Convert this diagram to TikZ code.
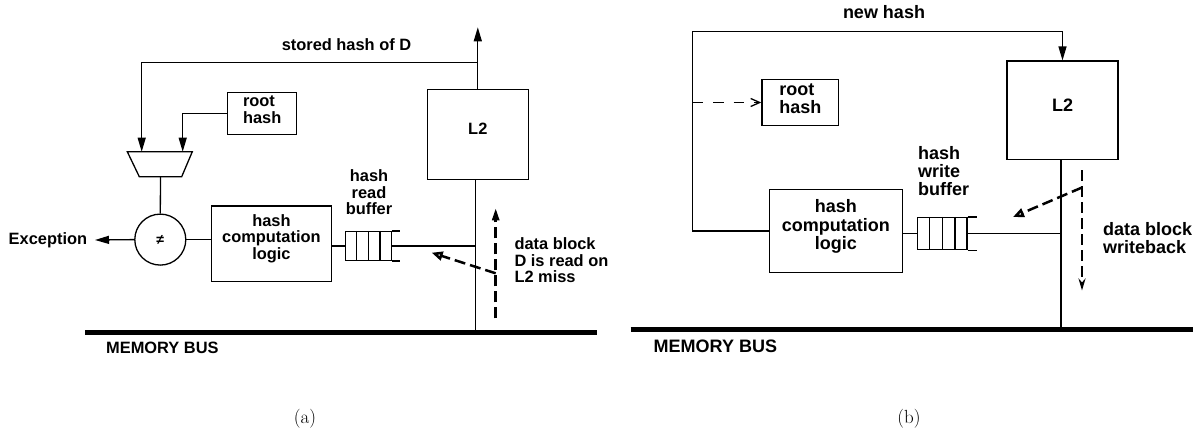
\documentclass[tikz,border=0pt]{standalone}
\usepackage{fontspec}
\setsansfont{Liberation Sans}
\usetikzlibrary{arrows.meta,calc}
\begin{document}
\begin{tikzpicture}[x=1pt,y=-1pt,
  lbl/.style={font=\sffamily\bfseries\fontsize{16.4}{16.5}\selectfont, inner sep=0pt},
  lblb/.style={font=\sffamily\bfseries\fontsize{18}{18.3}\selectfont, inner sep=0pt},
  box/.style={draw, line width=1.3pt, inner sep=0pt},
  wire/.style={line width=1.3pt},
  solidarrow/.style={wire, -{Triangle[length=14pt,width=8pt]}},
  busline/.style={line width=4.7pt},
  thickdash/.style={line width=2.5pt, dash pattern=on 11pt off 5pt},
  thindash/.style={line width=1.3pt, dash pattern=on 10.5pt off 10pt},
  filledtip/.style={-{Triangle[length=12pt,width=7pt]}},
  opentip/.style={-{Triangle[open,length=11pt,width=9pt]}},
  captionfont/.style={font=\fontsize{19}{19}\selectfont, inner sep=0pt},
  neqfont/.style={font=\sffamily\bfseries\fontsize{14}{14}\selectfont}
]
\useasboundingbox (0,0) rectangle (1202,431);

% ================= panel (a) =================
\node[box, minimum width=101pt, minimum height=90pt,
      label={[lbl,yshift=5pt]center:L2}] (L2a) at (477.8,134.2) {};
\node[box, minimum width=69pt, minimum height=41.6pt,
      label={[lbl,align=left,yshift=4pt]center:root\\hash}] (roota) at (262.2,113.5) {};
\node[box, minimum width=119.5pt, minimum height=75.7pt,
      label={[lbl,align=center,yshift=5.5pt]center:hash\\computation\\logic}] (hca) at (271.4,243.9) {};
\node[box, shape=circle, minimum size=51pt, neqfont] (neq) at (160.3,239.6) {≠};
\node[box, minimum width=45.9pt, minimum height=28.6pt] (bufa) at (368.25,245.9) {};
\foreach \f in {0.25,0.5,0.75}
  \draw[wire] ($(bufa.north west)!\f!(bufa.north east)$) -- ($(bufa.south west)!\f!(bufa.south east)$);
\draw[wire] (bufa.north east) -- ++(7.7,0);
\draw[wire] (bufa.south east) -- ++(7.7,0);

% comparator (trapezoid)
\draw[wire] (127.3,151.7) -- (192.3,151.7) -- (181.7,176.7) -- (139.3,176.7) -- cycle;
\coordinate (muxL) at (141.7,151.7);
\coordinate (muxR) at (182.7,151.7);
\coordinate (muxO) at (160.5,176.7);

% labels
\node[lbl] (storedlbl) at (346.5,45) {stored hash of D};
\node[lbl, anchor=east] (exc) at (87.3,240) {Exception};
\node[lbl, align=center] (hrb) at (369,192.6) {hash\\read\\buffer};
\node[lbl, align=left, anchor=west] (dbra) at (514.3,260.2) {data block\\D is read on\\L2 miss};
\node[lbl, anchor=west] (mba) at (106,347.7) {MEMORY BUS};

% coordinates
\coordinate (outA) at (477.8,27.3);
\coordinate (topjA) at (477.8,62.7);
\coordinate (jA) at (475.7,245.9);
\coordinate (busjA) at (475.7,332.3);
\coordinate (busAL) at (85,332.3);
\coordinate (busAR) at (597,332.3);
\coordinate (dA1) at (495.7,318.3);
\coordinate (dA2) at (495.7,208.3);
\coordinate (dA3) at (495.7,273.3);
\coordinate (dA4) at (431.7,252.7);

% connectors
\draw[solidarrow] (L2a.north) -- (outA);
\draw[solidarrow] (topjA) -| (muxL);
\draw[solidarrow] (roota.west) -| (muxR);
\draw[wire] (muxO) -- (neq.north);
\draw[solidarrow] (neq.west) -- ([xshift=7.7pt]exc.east);
\draw[wire] (neq.east) -- (neq.east -| hca.west);
\draw[wire] (hca.east |- bufa.west) -- (bufa.west);
\draw[wire] (bufa.east) -- (jA);
\draw[wire] (L2a.south -| jA) -- (busjA);
\draw[busline] (busAL) -- (busAR);
\draw[thickdash, filledtip] (dA1) -- (dA2);
\draw[thickdash, opentip] (dA3) -- (dA4);

\node[captionfont] (capa) at (305,419) {(a)};

% ================= panel (b) =================
\node[box, minimum width=111pt, minimum height=98.3pt,
      label={[lblb,yshift=5pt]center:L2}] (L2b) at (1062.5,110.2) {};
\node[box, minimum width=76.7pt, minimum height=46.4pt,
      label={[lblb,align=left,yshift=4pt]center:root\\hash}] (rootb) at (800.3,102.5) {};
\node[box, minimum width=133pt, minimum height=83.4pt,
      label={[lblb,align=center,yshift=4.5pt]center:hash\\computation\\logic}] (hcb) at (835.8,231) {};
\node[box, minimum width=49.7pt, minimum height=32.1pt] (bufb) at (942.2,233.6) {};
\foreach \f in {0.25,0.5,0.75}
  \draw[wire] ($(bufb.north west)!\f!(bufb.north east)$) -- ($(bufb.south west)!\f!(bufb.south east)$);
\draw[wire] (bufb.north east) -- ++(9.5,0);
\draw[wire] (bufb.south east) -- ++(9.5,0);

\node[lblb] (newh) at (884,12) {new hash};
\node[lblb, align=left, anchor=west] (hwb) at (918,171.2) {hash\\write\\buffer};
\node[lblb, align=left, anchor=west] (dbwb) at (1103,238.4) {data block\\writeback};
\node[lblb, anchor=west] (mbb) at (653.5,346.7) {MEMORY BUS};

\coordinate (cB1) at (692.7,31.7);
\coordinate (dB0) at (692.7,102.5);
\coordinate (jB) at (1061,233.6);
\coordinate (busjB) at (1061,329.5);
\coordinate (busBL) at (630.6,329.5);
\coordinate (busBR) at (1192.7,329.5);
\coordinate (dB1) at (1082,170);
\coordinate (dB2) at (1082,290.5);
\coordinate (dB3) at (1082,187.5);
\coordinate (dB4) at (1013,217);

\draw[solidarrow] (hcb.west) -| (cB1) -| (L2b.north);
\draw[thindash, -{Straight Barb[length=9pt,width=8pt]}] (dB0) -- (rootb.west);
\draw[wire] (hcb.east |- bufb.west) -- (bufb.west);
\draw[wire] (bufb.east) -- (jB);
\draw[wire] (L2b.south -| jB) -- (busjB);
\draw[busline] (busBL) -- (busBR);
\draw[thickdash, -{Stealth[length=12pt,width=7pt]}] (dB1) -- (dB2);
\draw[thickdash, opentip] (dB3) -- (dB4);

\node[captionfont] (capb) at (909,419) {(b)};
\end{tikzpicture}
\end{document}
